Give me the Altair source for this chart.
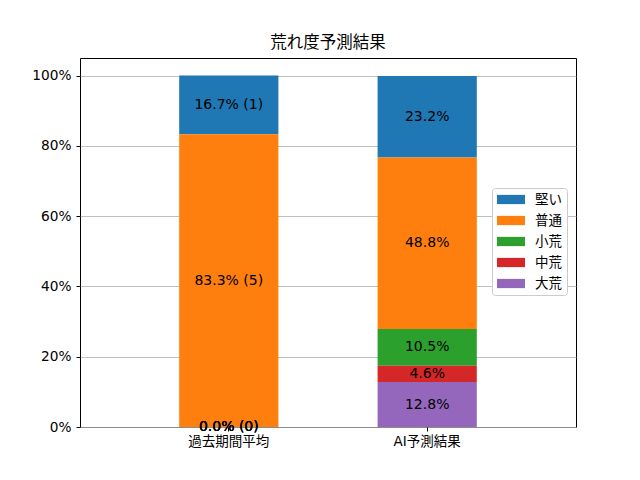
import altair as alt
import pandas as pd

categories = ["過去期間平均", "AI予測結果"]
levels = ["堅い", "普通", "小荒", "中荒", "大荒"]
colors = ["#1f77b4", "#ff7f0e", "#2ca02c", "#d62728", "#9467bd"]
past_pct = [16.7, 83.3, 0.0, 0.0, 0.0]
past_cnt = [1, 5, 0, 0, 0]
ai_pct = [23.2, 48.8, 10.5, 4.6, 12.8]

FONT = "DejaVu Sans, Noto Sans CJK JP"

rows = []
for i, lv in enumerate(levels):
    rows.append({"category": categories[0], "level": lv, "pct": past_pct[i],
                 "order": len(levels) - i,
                 "label": f"{past_pct[i]:.1f}% ({past_cnt[i]})"})
for i, lv in enumerate(levels):
    rows.append({"category": categories[1], "level": lv, "pct": ai_pct[i],
                 "order": len(levels) - i,
                 "label": f"{ai_pct[i]:.1f}%"})
df = pd.DataFrame(rows)

yscale = alt.Scale(domain=[0, 105], nice=False, zero=True)
xenc = alt.X("category:N", sort=categories, title=None,
             scale=alt.Scale(paddingInner=0.5, paddingOuter=0.5),
             axis=alt.Axis(labelAngle=0, domain=False, ticks=True, tickSize=4,
                           tickColor="black", labelFontSize=13.5, labelFont=FONT,
                           labelColor="black", labelPadding=3))

bars = alt.Chart(df).mark_bar().encode(
    x=xenc,
    y=alt.Y("pct:Q", stack="zero", scale=yscale, title=None,
            axis=alt.Axis(values=[0, 20, 40, 60, 80, 100],
                          labelExpr="datum.value + '%'",
                          domain=False, grid=True, gridColor="#b0b0b0",
                          gridWidth=0.8, tickSize=4, tickColor="black",
                          labelFontSize=13.7, labelFont=FONT, labelColor="black",
                          labelPadding=5)),
    color=alt.Color("level:N", sort=levels,
                    scale=alt.Scale(domain=levels, range=colors),
                    legend=alt.Legend(title=None, orient="none", legendX=412,
                                      legendY=130, padding=5,
                                      strokeColor="#cccccc", fillColor="white",
                                      cornerRadius=3,
                                      symbolType="M-1,-0.33L1,-0.33L1,0.33L-1,0.33Z",
                                      symbolSize=784, symbolStrokeWidth=0,
                                      labelFontSize=13.5, labelFont=FONT,
                                      labelColor="black", labelOffset=10,
                                      clipHeight=13, rowPadding=7)),
    order=alt.Order("order:Q"),
)

texts = alt.Chart(df).transform_stack(
    stack="pct", groupby=["category"], sort=[alt.SortField("order")],
    as_=["y0", "y1"]
).transform_calculate(
    mid="(datum.y0 + datum.y1) / 2"
).mark_text(fontSize=14, font=FONT, color="black", baseline="middle").encode(
    x=xenc,
    y=alt.Y("mid:Q", scale=yscale),
    text="label:N",
)

chart = alt.layer(bars, texts).properties(
    width=496, height=369,
    title=alt.TitleParams("荒れ度予測結果", fontSize=16.5, font=FONT,
                          fontWeight="normal", color="black", offset=7),
    autosize=alt.AutoSizeParams(type="none"),
    padding={"left": 72, "top": 50, "right": 56, "bottom": 45},
).configure_view(stroke="black", strokeWidth=1)

chart.save("out.html", embed_options={"renderer": "svg", "actions": False})
